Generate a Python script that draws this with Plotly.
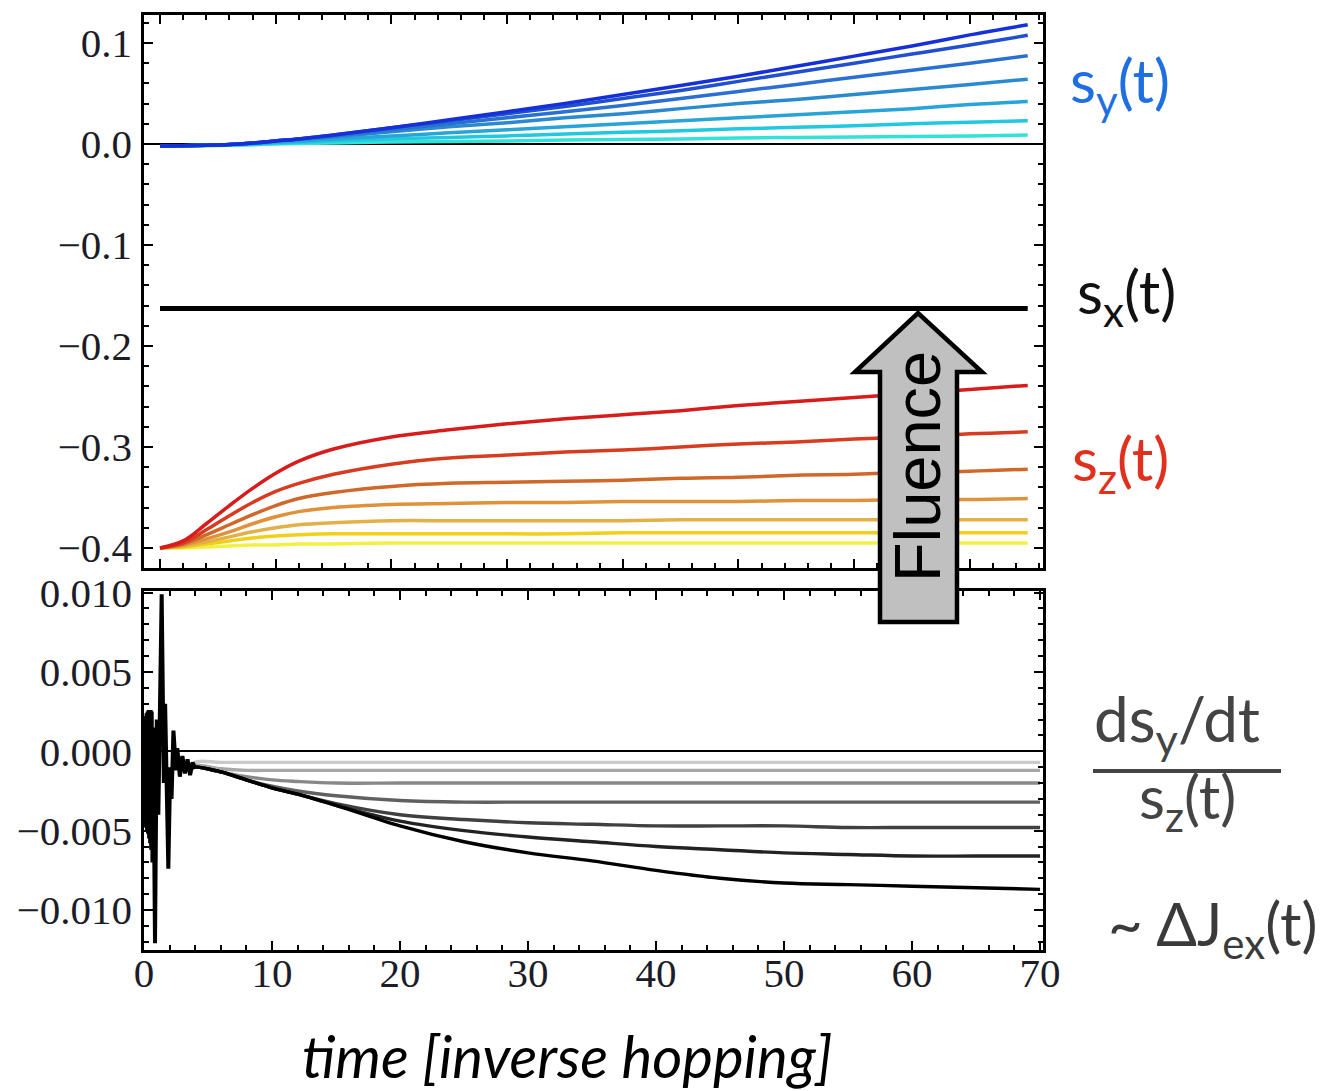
import plotly.graph_objects as go

W, H = 1325, 1091


def px(x):
    return x / W


def py(y):
    return 1 - y / H


# ---------------- data: top panel (spin components) ----------------
t_top = [0, 2, 4, 6, 8, 10, 12, 15, 20, 25, 30, 35, 40, 45, 50, 55, 60, 65, 70, 75]

sy_1 = [-0.002, -0.0017, -0.0012, -0.0005, 0.001, 0.003, 0.005, 0.009, 0.016, 0.024, 0.032, 0.040, 0.049, 0.058, 0.067, 0.077, 0.087, 0.097, 0.108, 0.118]
sy_2 = [-0.002, -0.0017, -0.0012, -0.0005, 0.001, 0.003, 0.005, 0.009, 0.016, 0.023, 0.030, 0.037, 0.045, 0.053, 0.062, 0.071, 0.080, 0.089, 0.098, 0.1076]
sy_3 = [-0.002, -0.0017, -0.0012, -0.0005, 0.001, 0.003, 0.005, 0.008, 0.014, 0.020, 0.026, 0.032, 0.038, 0.045, 0.052, 0.059, 0.066, 0.073, 0.080, 0.0874]
sy_4 = [-0.002, -0.0017, -0.0012, -0.0005, 0.001, 0.0028, 0.0045, 0.007, 0.012, 0.017, 0.021, 0.026, 0.030, 0.035, 0.040, 0.044, 0.049, 0.054, 0.059, 0.0642]
sy_5 = [-0.002, -0.0017, -0.0012, -0.0006, 0.0005, 0.002, 0.003, 0.005, 0.008, 0.011, 0.014, 0.017, 0.020, 0.023, 0.026, 0.029, 0.032, 0.035, 0.039, 0.042]
sy_6 = [-0.002, -0.0018, -0.0014, -0.0009, -0.0002, 0.001, 0.0018, 0.003, 0.005, 0.0065, 0.008, 0.010, 0.0115, 0.013, 0.015, 0.0165, 0.018, 0.020, 0.0215, 0.0231]
sy_7 = [-0.002, -0.0019, -0.0016, -0.0012, -0.0007, 0.0, 0.0005, 0.001, 0.002, 0.0025, 0.003, 0.004, 0.0045, 0.005, 0.006, 0.0065, 0.007, 0.0075, 0.008, 0.0089]

sx_val = [-0.163] * len(t_top)

sz_1 = [-0.400, -0.393, -0.376, -0.358, -0.341, -0.326, -0.314, -0.302, -0.290, -0.283, -0.277, -0.272, -0.268, -0.264, -0.259, -0.255, -0.251, -0.247, -0.243, -0.239]
sz_2 = [-0.400, -0.395, -0.382, -0.368, -0.355, -0.344, -0.336, -0.327, -0.317, -0.311, -0.308, -0.305, -0.303, -0.300, -0.297, -0.295, -0.292, -0.290, -0.287, -0.285]
sz_3 = [-0.400, -0.396, -0.387, -0.377, -0.367, -0.358, -0.351, -0.345, -0.339, -0.336, -0.335, -0.334, -0.333, -0.331, -0.330, -0.328, -0.327, -0.325, -0.324, -0.322]
sz_4 = [-0.400, -0.397, -0.391, -0.384, -0.376, -0.369, -0.364, -0.360, -0.357, -0.356, -0.355, -0.355, -0.354, -0.354, -0.354, -0.353, -0.353, -0.352, -0.352, -0.351]
sz_5 = [-0.400, -0.398, -0.394, -0.389, -0.384, -0.380, -0.377, -0.375, -0.373, -0.373, -0.373, -0.373, -0.373, -0.372, -0.372, -0.372, -0.372, -0.372, -0.372, -0.372]
sz_6 = [-0.400, -0.399, -0.396, -0.393, -0.390, -0.388, -0.387, -0.386, -0.386, -0.386, -0.386, -0.386, -0.385, -0.385, -0.385, -0.385, -0.385, -0.385, -0.385, -0.385]
sz_7 = [-0.400, -0.400, -0.399, -0.398, -0.397, -0.397, -0.396, -0.396, -0.395, -0.395, -0.395, -0.395, -0.395, -0.395, -0.395, -0.395, -0.395, -0.395, -0.395, -0.395]

sy_series = [sy_1, sy_2, sy_3, sy_4, sy_5, sy_6, sy_7]
sz_series = [sz_1, sz_2, sz_3, sz_4, sz_5, sz_6, sz_7]
sy_colors = ["#1530d8", "#2050d0", "#2a70d0", "#2a8ad0", "#28a5d8", "#20c8e0", "#30e2d8"]
sz_colors = ["#d81c1c", "#d83c20", "#d0682a", "#e0923a", "#e2b048", "#f0d018", "#f2f040"]

# ---------------- data: bottom panel (ds_y/dt / s_z) ----------------
t_osc = [0.00, 0.04, 0.08, 0.12, 0.16, 0.20, 0.24, 0.28, 0.32, 0.36, 0.40, 0.44, 0.48, 0.52, 0.56, 0.60,
         0.66, 0.72, 0.86, 1.00, 1.12, 1.38, 1.55, 1.65, 1.90,
         2.05, 2.15, 2.30, 2.50, 2.60, 2.80, 3.00, 3.20, 3.40, 3.60, 3.80, 4.00]
v_osc = [0.0, 0.0018, -0.0040, 0.0022, -0.0048, 0.0024, -0.0050, 0.0025, -0.0052, 0.0026, -0.0055, 0.0025,
         -0.0058, 0.0026, -0.0062, 0.0025, -0.0070, 0.0015, -0.0121, 0.0020, -0.0040,
         0.0099, -0.0020, 0.0030, -0.0074, -0.0010, -0.0030, 0.0013, -0.0012, 0.0002, -0.0016, -0.0003, -0.0014,
         -0.0005, -0.0015, -0.0007, -0.0011]

t_bot = [4, 6, 8, 10, 12, 15, 20, 25, 30, 35, 40, 45, 50, 55, 60, 65, 70]
r_1 = [-0.0010, -0.0013, -0.0018, -0.0023, -0.0027, -0.0034, -0.0047, -0.0057, -0.0064, -0.0069, -0.0075, -0.0080, -0.0083, -0.0084, -0.0085, -0.0086, -0.0087]
r_2 = [-0.0010, -0.0013, -0.0018, -0.0023, -0.0027, -0.0034, -0.0044, -0.0050, -0.0054, -0.0057, -0.0060, -0.0062, -0.0064, -0.0065, -0.0066, -0.0066, -0.0066]
r_3 = [-0.0010, -0.0013, -0.0018, -0.0023, -0.0027, -0.0033, -0.0040, -0.0043, -0.0045, -0.0046, -0.0047, -0.0047, -0.0047, -0.0048, -0.0048, -0.0048, -0.0048]
r_4 = [-0.0010, -0.0013, -0.0018, -0.0022, -0.0025, -0.0028, -0.0031, -0.0032, -0.0032, -0.0032, -0.0032, -0.0032, -0.0032, -0.0032, -0.0032, -0.0032, -0.0032]
r_5 = [-0.0010, -0.0013, -0.0016, -0.0018, -0.0019, -0.0020, -0.0020, -0.0020, -0.0020, -0.0020, -0.0020, -0.0020, -0.0020, -0.0020, -0.0020, -0.0020, -0.0020]
r_6 = [-0.0009, -0.0011, -0.0012, -0.0012, -0.0012, -0.0012, -0.0012, -0.0012, -0.0012, -0.0012, -0.0012, -0.0012, -0.0012, -0.0012, -0.0012, -0.0012, -0.0012]
r_7 = [-0.0007, -0.0007, -0.0007, -0.0007, -0.0007, -0.0007, -0.0007, -0.0007, -0.0007, -0.0007, -0.0007, -0.0007, -0.0007, -0.0007, -0.0007, -0.0007, -0.0007]
r_series = [r_7, r_6, r_5, r_4, r_3, r_2, r_1]
r_colors = ["#cacaca", "#a8a8a8", "#888888", "#606060", "#404040", "#222222", "#000000"]

x_ticks = [0, 10, 20, 30, 40, 50, 60, 70]

fig = go.Figure()

for vals, col in zip(reversed(sy_series), reversed(sy_colors)):
    fig.add_trace(go.Scatter(x=t_top, y=vals, mode="lines", line=dict(color=col, width=3.5, shape="spline"),
                             xaxis="x", yaxis="y", hoverinfo="skip"))
for vals, col in zip(reversed(sz_series), reversed(sz_colors)):
    fig.add_trace(go.Scatter(x=t_top, y=vals, mode="lines", line=dict(color=col, width=3.5, shape="spline"),
                             xaxis="x", yaxis="y", hoverinfo="skip"))
fig.add_trace(go.Scatter(x=t_top, y=sx_val, mode="lines", line=dict(color="black", width=5),
                         xaxis="x", yaxis="y", hoverinfo="skip"))

for vals, col in zip(r_series, r_colors):
    fig.add_trace(go.Scatter(x=[t_osc[-1]] + t_bot, y=[v_osc[-1]] + vals, mode="lines",
                             line=dict(color=col, width=3.4, shape="spline"),
                             xaxis="x2", yaxis="y2", hoverinfo="skip"))
fig.add_trace(go.Scatter(x=t_osc, y=v_osc, mode="lines", line=dict(color="black", width=4),
                         xaxis="x2", yaxis="y2", hoverinfo="skip"))

tickfont = dict(family="Liberation Serif, Times New Roman, serif", size=41, color="#1c1c28")
common = dict(showline=True, linecolor="black", linewidth=2.5, mirror="ticks", ticks="inside",
              ticklen=9, tickwidth=2, tickcolor="black", showgrid=False, tickfont=tickfont,
              automargin=False)

fig.update_layout(
    width=W, height=H,
    margin=dict(l=0, r=0, t=0, b=0, pad=0, autoexpand=False),
    paper_bgcolor="white", plot_bgcolor="white",
    showlegend=False,
    xaxis=dict(domain=[px(144), px(1043)], range=[-1.383, 76.32], anchor="y", showticklabels=False,
               tick0=0, dtick=10, zeroline=False,
               minor=dict(dtick=2, ticks="inside", ticklen=5, tickwidth=1.5, tickcolor="black"), **common),
    yaxis=dict(domain=[py(568), py(15)], range=[-0.4198, 0.1277], anchor="x", tick0=0, dtick=0.1,
               tickformat=".1f", zeroline=True, zerolinecolor="black", zerolinewidth=1.5,
               ticklabelstandoff=1,
               minor=dict(dtick=0.02, ticks="inside", ticklen=5, tickwidth=1.5, tickcolor="black"), **common),
    xaxis2=dict(domain=[px(144), px(1043)], range=[0, 70.23], anchor="y2", tickvals=x_ticks, zeroline=False,
                ticklabelstandoff=-15,
                minor=dict(dtick=2, ticks="inside", ticklen=5, tickwidth=1.5, tickcolor="black"), **common),
    yaxis2=dict(domain=[py(950), py(591)], range=[-0.01252, 0.0101], anchor="x2", tick0=0, dtick=0.005,
                tickformat=".3f", zeroline=True, zerolinecolor="black", zerolinewidth=1.5,
                ticklabelstandoff=1,
                minor=dict(dtick=0.001, ticks="inside", ticklen=5, tickwidth=1.5, tickcolor="black"), **common),
)

# Fluence arrow
arrow_pts = [(880, 622), (880, 372), (855, 372), (918, 313), (982, 372), (957, 372), (957, 622)]
path = "M " + " L ".join(f"{px(a):.5f},{py(b):.5f}" for a, b in arrow_pts) + " Z"
fig.add_shape(type="path", path=path, xref="paper", yref="paper", fillcolor="#c0c0c0",
              line=dict(color="black", width=4.5), layer="above")

# fraction bar
fig.add_shape(type="line", xref="paper", yref="paper", x0=px(1093), x1=px(1281), y0=py(771), y1=py(771),
              line=dict(color="#444444", width=4))

label_font = "Lato, Open Sans, sans-serif"


def ann(text, x, y, color, size=52, family=label_font, angle=0):
    fig.add_annotation(text=text, x=px(x), y=py(y), xref="paper", yref="paper", showarrow=False,
                       xanchor="center", yanchor="middle", textangle=angle,
                       font=dict(family=family, size=size, color=color))


ann("s<sub>y</sub>(t)", 1120, 85, "#1f6fe0", size=60)
ann("s<sub>x</sub>(t)", 1126, 296, "#111111", size=60)
ann("s<sub>z</sub>(t)", 1120, 463, "#e0301e", size=60)
ann("ds<sub>y</sub>/dt", 1177, 722, "#444444", size=62)
ann("s<sub>z</sub>(t)", 1187, 800, "#444444", size=60)
ann("~ ΔJ<sub>ex</sub>(t)", 1213, 927, "#3a3a3a", size=60)
ann("Fluence", 917, 467, "black", size=65, family="Liberation Sans, Arial, sans-serif", angle=-90)
ann("<i>time [inverse hopping]</i>", 567, 1055, "black", size=58)

fig.write_html("out.html")
